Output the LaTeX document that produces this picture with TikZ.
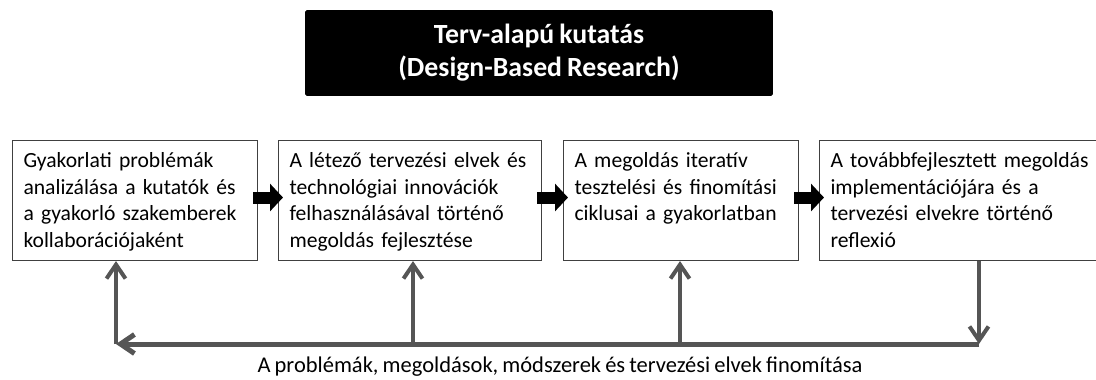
\documentclass[tikz,border=0pt]{standalone}
\usepackage{fontspec}
\setmainfont{Carlito}[WordSpace=0.8]
\usepackage{tikz}
\usetikzlibrary{arrows.meta, positioning}
\definecolor{dbrgray}{RGB}{85, 85, 85}
\definecolor{dbrframe}{RGB}{64, 64, 64}

\begin{document}
\begin{tikzpicture}[
    x=0.02cm, y=-0.02cm,
    every node/.style={font=\fontsize{12.3}{15.2}\selectfont},
    banner/.style={rectangle, rounded corners=1pt, fill=black, minimum width=9.36cm, minimum height=1.72cm, text=white, align=center, font=\fontsize{15.8}{18.8}\selectfont\bfseries},
    phase/.style={rectangle, draw=dbrframe, line width=0.6pt, anchor=north west, align=left, inner xsep=0.22cm, inner ysep=0pt, text height=0.54cm, text depth=1.86cm},
    flow/.style={-{Triangle[length=0.26cm, width=0.54cm]}, line width=0.24cm, black},
    feedback/.style={-{Straight Barb[length=0.28cm, width=0.38cm]}, line width=0.08cm, dbrgray}
]
\useasboundingbox (0,0) rectangle (1096,379);

% Title
\node[banner] (title) at (539,53) {Terv-alapú kutatás\\(Design-Based Research)};

% Phases
\node[phase, text width=4.46cm] (analysis) at (12,140) {Gyakorlati problémák\\analizálása a kutatók és\\a gyakorló szakemberek\\kollaborációjaként};
\node[phase, text width=4.82cm] (development) at (278,140) {A létező tervezési elvek és\\technológiai innovációk\\felhasználásával történő\\megoldás fejlesztése};
\node[phase, text width=4.26cm] (testing) at (563,140) {A megoldás iteratív\\tesztelési és finomítási\\ciklusai a gyakorlatban};
\node[phase, text width=5.36cm] (reflection) at (819,140) {A továbbfejlesztett megoldás\\implementációjára és a\\tervezési elvekre történő\\reflexió};

% Arrows between phases
\draw[flow] ([xshift=-0.1cm, yshift=0.06cm]analysis.east) -- ([xshift=0.1cm, yshift=0.06cm]development.west);
\draw[flow] ([xshift=-0.1cm, yshift=0.06cm]development.east) -- ([xshift=0.1cm, yshift=0.06cm]testing.west);
\draw[flow] ([xshift=-0.1cm, yshift=0.06cm]testing.east) -- ([xshift=0.1cm, yshift=0.06cm]reflection.west);

% Refinement loop
\coordinate (loop1) at (116,344);
\coordinate (loop2) at (413,344);
\coordinate (loop3) at (680,344);
\coordinate (loop4) at (979,344);
\draw[feedback, line width=0.1cm] (loop4) -- (loop1);
\draw[feedback] (loop1) -- (loop1 |- analysis.south);
\draw[feedback] (loop2) -- (loop2 |- development.south);
\draw[feedback] (loop3) -- (loop3 |- testing.south);
\draw[feedback] (loop4 |- reflection.south) -- (loop4);
\node[font=\fontsize{12.8}{15}\selectfont] (refine) at (560,367) {A problémák, megoldások, módszerek és tervezési elvek finomítása};

\end{tikzpicture}
\end{document}
